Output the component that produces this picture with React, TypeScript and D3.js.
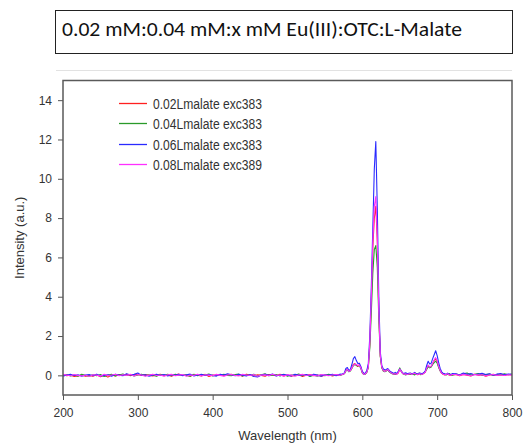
import React, { useEffect, useRef } from "react";
import * as d3 from "d3";

// wavelength grid (nm): coarse on baseline, finer around the Eu(III) bands
const wavelengths = [
  200, 205, 210, 215, 220, 225, 230, 235, 240, 245, 250, 255, 260, 265, 270,
  275, 280, 285, 290, 295, 300, 305, 310, 315, 320, 325, 330, 335, 340, 345,
  350, 355, 360, 365, 370, 375, 380, 385, 390, 395, 400, 405, 410, 415, 420,
  425, 430, 435, 440, 445, 450, 455, 460, 465, 470, 475, 480, 485, 490, 495,
  500, 505, 510, 515, 520, 525, 530, 535, 540, 545, 550, 555, 560, 565, 570,
  572, 574, 576, 578, 580, 582, 584, 586, 588, 590, 592, 594, 596, 598, 600,
  602, 604, 606, 608, 610, 612, 614, 616, 618, 620, 622, 624, 626, 628, 630,
  632, 634, 636, 638, 640, 642, 644, 646, 648, 650, 652, 654, 656, 658, 660,
  662, 664, 666, 668, 670, 672, 674, 676, 678, 680, 682, 684, 686, 688, 690,
  692, 694, 696, 698, 700, 702, 704, 706, 708, 710, 712, 714, 716, 718, 720,
  725, 730, 735, 740, 745, 750, 755, 760, 765, 770, 775, 780, 785, 790, 795, 800,
];

const lmalate002 = [
  0.03, -0.02, 0.01, -0.06, -0.03, 0.02, -0.05, 0.0, -0.04, 0.03, -0.07, 0.01, -0.09, 0.02, -0.03,
  0.04, 0.0, 0.06, -0.02, 0.03, 0.05, -0.01, 0.04, 0.0, -0.03, 0.02, 0.05, -0.02, 0.01, -0.04,
  0.03, 0.06, -0.01, 0.02, -0.05, 0.04, 0.01, -0.03, 0.05, -0.06, 0.02, 0.0, 0.04, -0.02, 0.03,
  0.05, -0.01, 0.02, -0.04, 0.06, 0.01, -0.03, 0.03, 0.0, -0.05, 0.04, 0.02, -0.02, 0.05, -0.03,
  0.02, -0.04, 0.01, 0.03, -0.06, 0.0, 0.04, -0.02, 0.02, -0.05, 0.01, 0.03, -0.03, 0.02, 0.0,
  0.04, 0.06, 0.1, 0.25, 0.3, 0.2, 0.25, 0.4, 0.55, 0.6, 0.5, 0.45, 0.55, 0.4, 0.15,
  0.05, 0.08, 0.18, 0.45, 1.6, 3.8, 6.5, 8.0, 8.6, 6.8, 3.2, 1.0, 0.4, 0.25, 0.2,
  0.25, 0.3, 0.2, 0.15, 0.1, 0.05, 0.1, 0.06, 0.12, 0.3, 0.2, 0.1, 0.05, 0.08, 0.04,
  0.06, 0.1, 0.05, 0.08, 0.12, 0.07, 0.03, 0.09, 0.06, 0.04, 0.1, 0.15, 0.35, 0.5, 0.4,
  0.45, 0.6, 0.75, 0.85, 0.7, 0.45, 0.25, 0.1, 0.05, 0.02, 0.04, 0.07, 0.02, -0.01, 0.03,
  0.05, -0.02, 0.04, 0.01, -0.03, 0.06, 0.0, 0.03, -0.04, 0.02, 0.05, -0.01, 0.03, 0.0, 0.04, 0.02,
];

const lmalate004 = [
  -0.01, 0.04, -0.03, 0.02, -0.05, 0.05, 0.0, -0.04, 0.03, -0.02, 0.04, -0.06, 0.01, 0.05, -0.03,
  0.02, 0.07, -0.01, 0.04, -0.03, 0.02, 0.06, -0.02, 0.03, 0.01, -0.05, 0.04, 0.0, 0.05, -0.02,
  0.06, -0.01, 0.03, 0.0, -0.04, 0.05, -0.02, 0.04, 0.01, 0.07, -0.03, 0.02, -0.01, 0.05, 0.0,
  -0.02, 0.04, 0.06, -0.03, 0.02, 0.0, 0.05, -0.04, 0.03, 0.08, -0.02, 0.01, 0.04, -0.03, 0.05,
  -0.05, 0.02, 0.0, 0.07, -0.02, 0.04, -0.06, 0.01, -0.04, 0.03, -0.02, 0.05, 0.0, 0.03, -0.01,
  0.02, 0.05, 0.08, 0.22, 0.28, 0.18, 0.22, 0.35, 0.5, 0.55, 0.52, 0.48, 0.5, 0.35, 0.12,
  0.04, 0.06, 0.15, 0.4, 1.4, 3.2, 5.2, 6.4, 6.6, 5.5, 2.9, 0.95, 0.38, 0.22, 0.18,
  0.22, 0.28, 0.18, 0.12, 0.08, 0.06, 0.04, 0.09, 0.18, 0.38, 0.22, 0.08, 0.06, 0.02, 0.05,
  0.08, 0.04, 0.1, 0.06, 0.02, 0.09, 0.05, 0.11, 0.03, 0.07, 0.12, 0.18, 0.3, 0.45, 0.38,
  0.42, 0.55, 0.65, 0.72, 0.62, 0.4, 0.22, 0.12, 0.08, 0.05, 0.02, 0.06, 0.09, 0.04, 0.01,
  0.06, 0.03, 0.08, 0.12, 0.02, 0.05, 0.09, 0.01, 0.04, 0.07, -0.01, 0.05, 0.02, 0.08, 0.03, 0.06,
];

const lmalate006 = [
  -0.04, 0.02, 0.05, -0.01, 0.03, -0.05, 0.01, 0.04, -0.02, 0.06, -0.03, 0.0, 0.03, -0.04, 0.05,
  0.01, -0.02, 0.08, 0.02, 0.05, 0.12, 0.0, 0.03, -0.04, 0.02, 0.06, -0.01, 0.04, -0.03, 0.03,
  0.0, 0.05, -0.02, 0.03, 0.06, -0.03, 0.02, 0.05, -0.01, 0.04, 0.0, -0.04, 0.06, 0.02, 0.08,
  0.03, -0.02, 0.05, 0.01, -0.03, 0.04, -0.06, -0.08, 0.02, 0.05, 0.0, 0.07, -0.03, 0.02, 0.04,
  0.01, -0.03, 0.05, 0.0, 0.02, 0.04, -0.02, 0.06, 0.01, -0.04, 0.03, 0.0, 0.05, -0.02, 0.06,
  0.05, 0.08, 0.12, 0.35, 0.4, 0.25, 0.3, 0.55, 0.85, 0.95, 0.75, 0.6, 0.62, 0.45, 0.2,
  0.1, 0.12, 0.25, 0.6, 2.0, 4.5, 7.5, 10.5, 11.9, 8.5, 4.0, 1.2, 0.5, 0.32, 0.28,
  0.3, 0.35, 0.25, 0.18, 0.14, 0.1, 0.15, 0.09, 0.2, 0.32, 0.22, 0.12, 0.1, 0.13, 0.08,
  0.1, 0.12, 0.07, 0.1, 0.15, 0.09, 0.06, 0.12, 0.1, 0.08, 0.13, 0.22, 0.5, 0.72, 0.58,
  0.62, 0.85, 1.05, 1.25, 1.0, 0.65, 0.35, 0.18, 0.1, 0.08, 0.05, 0.11, 0.06, 0.03, 0.09,
  0.08, 0.02, 0.12, 0.05, 0.09, 0.03, 0.07, 0.1, 0.04, 0.08, 0.01, 0.06, 0.09, 0.03, 0.07, 0.05,
];

const lmalate008 = [
  0.05, 0.01, -0.02, 0.04, 0.0, -0.03, 0.02, -0.06, 0.03, 0.01, -0.04, 0.05, -0.01, 0.02, 0.06,
  -0.02, 0.03, 0.0, 0.05, -0.03, 0.04, 0.02, -0.05, 0.01, 0.06, -0.01, 0.02, -0.04, 0.03, 0.05,
  -0.02, 0.01, 0.04, -0.05, 0.02, 0.0, 0.06, -0.03, 0.03, 0.01, -0.02, 0.05, 0.0, -0.04, 0.02,
  0.04, 0.0, -0.03, 0.05, 0.02, -0.01, 0.04, -0.05, 0.01, 0.03, -0.02, 0.06, 0.0, 0.02, -0.04,
  0.03, 0.01, -0.05, 0.02, 0.05, -0.01, 0.03, 0.0, -0.03, 0.04, 0.01, -0.02, 0.02, 0.04, 0.0,
  0.03, 0.05, 0.09, 0.24, 0.3, 0.2, 0.24, 0.38, 0.52, 0.58, 0.55, 0.5, 0.52, 0.38, 0.14,
  0.05, 0.07, 0.16, 0.42, 1.7, 4.0, 6.8, 8.6, 9.1, 7.0, 3.3, 1.0, 0.42, 0.24, 0.2,
  0.24, 0.3, 0.2, 0.14, 0.09, 0.06, 0.08, 0.05, 0.14, 0.32, 0.2, 0.09, 0.06, 0.07, 0.04,
  0.07, 0.09, 0.05, 0.08, 0.11, 0.06, 0.04, 0.08, 0.07, 0.05, 0.1, 0.16, 0.36, 0.52, 0.42,
  0.46, 0.62, 0.78, 0.9, 0.74, 0.46, 0.24, 0.11, 0.06, 0.03, 0.05, 0.08, 0.03, 0.0, 0.04,
  0.04, 0.0, 0.05, 0.02, -0.02, 0.04, 0.01, 0.03, -0.03, 0.02, 0.04, 0.0, 0.02, -0.01, 0.03, 0.01,
];

const seriesLabels = [
  "0.02Lmalate exc383",
  "0.04Lmalate exc383",
  "0.06Lmalate exc383",
  "0.08Lmalate exc389",
];
const seriesValues = [lmalate002, lmalate004, lmalate006, lmalate008];
const seriesColors = ["#ff2020", "#2a9a2a", "#2a2aff", "#ff30ff"];

const xTicks = [200, 300, 400, 500, 600, 700, 800];
const yTicks = [0, 2, 4, 6, 8, 10, 12, 14];

const TITLE = "0.02 mM:0.04 mM:x mM Eu(III):OTC:L-Malate";

const W = 524;
const H = 445;
const margin = { top: 80.5, right: 12, bottom: 50, left: 63 };

const App = () => {
  const svgRef = useRef(null);

  useEffect(() => {
    const svg = d3.select(svgRef.current);
    svg.selectAll("*").remove();

    const innerW = W - margin.left - margin.right;
    const innerH = H - margin.top - margin.bottom;

    const x = d3.scaleLinear().domain([200, 800]).range([0, innerW]);
    const y = d3.scaleLinear().domain([-1, 15]).range([innerH, 0]);

    // title box
    svg
      .append("rect")
      .attr("x", 55.5)
      .attr("y", 10.5)
      .attr("width", 457)
      .attr("height", 43)
      .attr("fill", "white")
      .attr("stroke", "#222")
      .attr("stroke-width", 1);
    svg
      .append("text")
      .attr("x", 62)
      .attr("y", 36)
      .attr("font-family", "Carlito, 'Liberation Sans', Arial, sans-serif")
      .attr("font-size", 20)
      .attr("textLength", 400)
      .attr("lengthAdjust", "spacingAndGlyphs")
      .attr("fill", "#111")
      .text(TITLE);

    // faint edge of the pasted plot image
    svg
      .append("line")
      .attr("x1", 56)
      .attr("x2", 512)
      .attr("y1", 70.5)
      .attr("y2", 70.5)
      .attr("stroke", "#e2e2e2")
      .attr("stroke-width", 1);

    const g = svg
      .append("g")
      .attr("transform", `translate(${margin.left},${margin.top})`);

    g.append("clipPath")
      .attr("id", "plot-clip")
      .append("rect")
      .attr("width", innerW)
      .attr("height", innerH);

    const line = d3
      .line()
      .x((d, i) => x(wavelengths[i]))
      .y((d) => y(d));

    g.append("g")
      .attr("clip-path", "url(#plot-clip)")
      .selectAll("path")
      .data(seriesValues)
      .join("path")
      .attr("d", (d) => line(d))
      .attr("fill", "none")
      .attr("stroke", (d, i) => seriesColors[i])
      .attr("stroke-width", 1.1)
      .attr("stroke-linejoin", "round");

    // axes
    const leftAxis = g
      .append("g")
      .call(d3.axisLeft(y).tickValues(yTicks).tickSize(5).tickPadding(6));
    const bottomAxis = g
      .append("g")
      .attr("transform", `translate(0,${innerH})`)
      .call(d3.axisBottom(x).tickValues(xTicks).tickSize(5).tickPadding(8));
    [leftAxis, bottomAxis].forEach((ax) => {
      ax.select(".domain").remove();
      ax.selectAll("line").attr("stroke", "#555");
      ax.selectAll("text")
        .attr("fill", "#333")
        .attr("font-size", 12)
        .attr("font-family", "'Liberation Sans', Arial, sans-serif");
    });

    // frame
    g.append("rect")
      .attr("width", innerW)
      .attr("height", innerH)
      .attr("fill", "none")
      .attr("stroke", "#5a5a5a")
      .attr("stroke-width", 1.5);

    // axis titles
    svg
      .append("text")
      .attr("x", margin.left + innerW / 2)
      .attr("y", 440)
      .attr("text-anchor", "middle")
      .attr("font-family", "'Liberation Sans', Arial, sans-serif")
      .attr("font-size", 13)
      .attr("fill", "#333")
      .text("Wavelength (nm)");
    svg
      .append("text")
      .attr("transform", `translate(24,${margin.top + innerH / 2}) rotate(-90)`)
      .attr("text-anchor", "middle")
      .attr("font-family", "'Liberation Sans', Arial, sans-serif")
      .attr("font-size", 13)
      .attr("fill", "#333")
      .text("Intensity (a.u.)");

    // legend
    const legend = svg
      .append("g")
      .attr("transform", `translate(119,103.5)`)
      .selectAll("g")
      .data(seriesLabels)
      .join("g")
      .attr("transform", (d, i) => `translate(0,${Math.round(i * 20.3)})`);
    legend
      .append("line")
      .attr("x1", 0)
      .attr("x2", 28)
      .attr("stroke", (d, i) => seriesColors[i])
      .attr("stroke-width", 1.3);
    legend
      .append("text")
      .attr("x", 34)
      .attr("y", 5)
      .attr("font-family", "'Liberation Sans Narrow', 'Arial Narrow', Arial, sans-serif")
      .attr("font-size", 14)
      .attr("textLength", 109)
      .attr("lengthAdjust", "spacingAndGlyphs")
      .attr("fill", "#333")
      .text((d) => d);
  }, []);

  return (
    <svg
      ref={svgRef}
      width={W}
      height={H}
      style={{ position: "absolute", left: 0, top: 0, background: "white" }}
    ></svg>
  );
};

export default App;
